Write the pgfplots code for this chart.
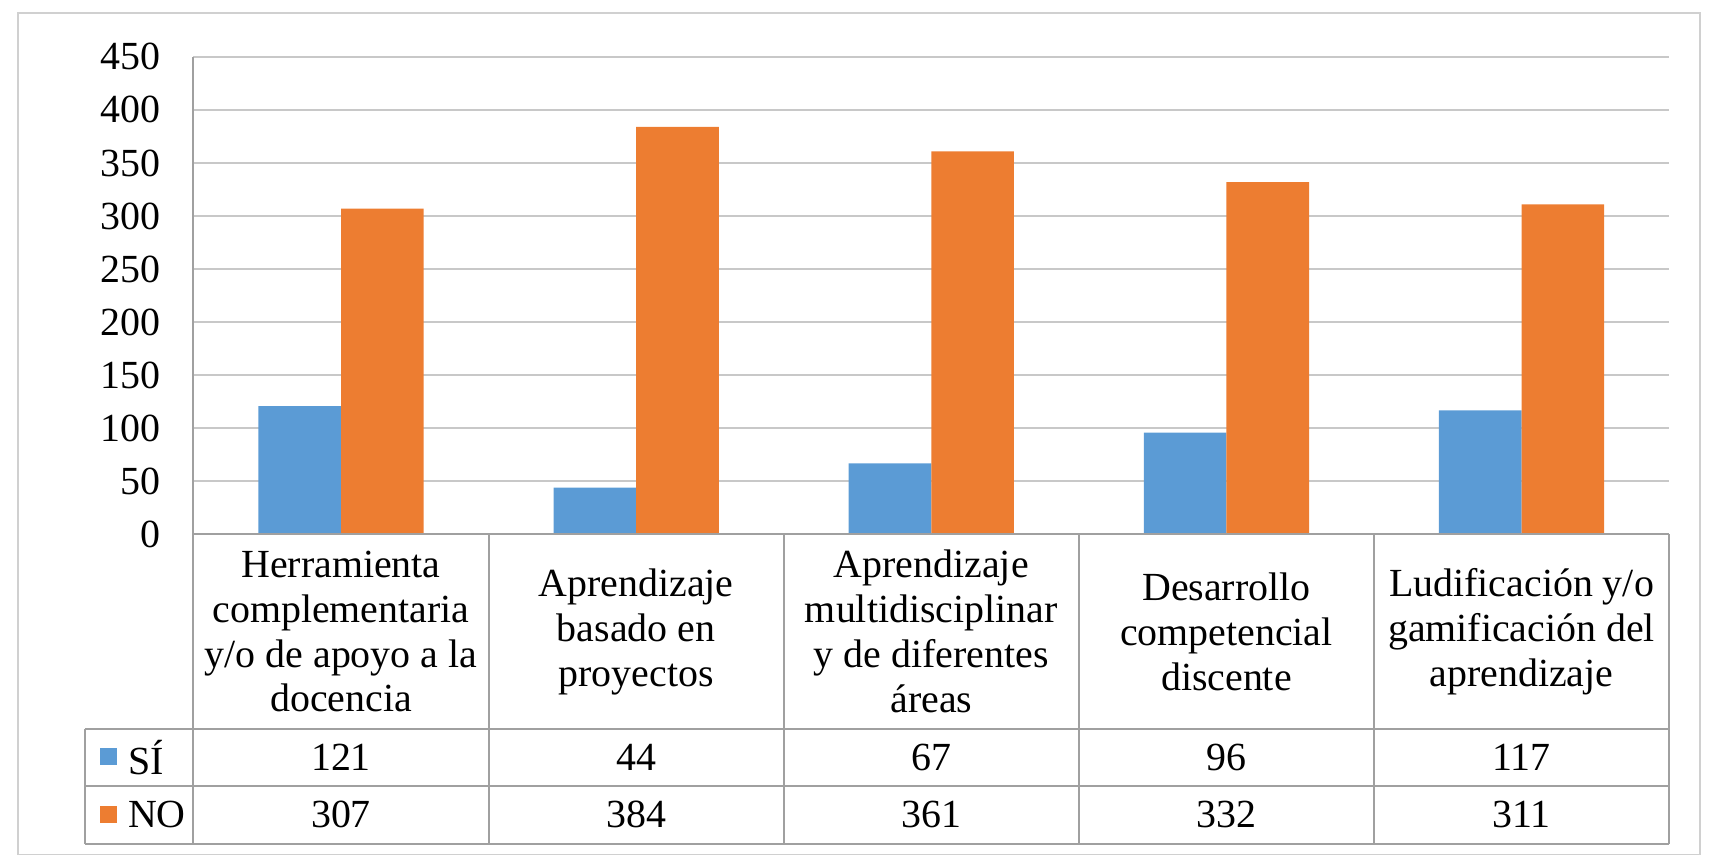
\documentclass[border=0pt]{standalone}
\usepackage{pgfplots}
\usepackage{pgfplotstable}
\pgfplotsset{compat=1.18}
\usepackage{fontspec}
\setmainfont{Liberation Serif}
\definecolor{siblue}{HTML}{5B9BD5}
\definecolor{noorange}{HTML}{ED7D31}
\definecolor{gridgray}{HTML}{C8C8C8}
\definecolor{tabgray}{HTML}{A0A0A0}
\definecolor{bordergray}{HTML}{D0D0D0}

\pgfplotstableread{
x si no
0 121 307
1 44 384
2 67 361
3 96 332
4 117 311
}\data

\begin{document}
\newcommand{\tf}{\fontsize{20}{22.5}\selectfont}
\begin{tikzpicture}
\useasboundingbox (-94.5pt,-163pt) rectangle (760.5pt,268pt);
\draw[bordergray, line width=1pt] (-88pt,-160.5pt) rectangle (755.5pt,261.5pt);
\begin{axis}[
  at={(0pt,0pt)}, anchor=south west,
  scale only axis, width=740pt, height=239.5pt,
  xmin=-0.5, xmax=4.5, ymin=0, ymax=450,
  ytick={0,50,...,450},
  xtick={0,1,2,3,4},
  xticklabels={
    {Herramienta\\complementaria\\y/o de apoyo a la\\docencia},
    {Aprendizaje\\basado en\\proyectos},
    {Aprendizaje\\multidisciplinar\\y de diferentes\\áreas},
    {Desarrollo\\competencial\\discente},
    {Ludificación y/o\\gamificación del\\aprendizaje}},
  xticklabel style={align=center, anchor=center, yshift=-48.75pt, font=\tf},
  yticklabel style={font=\tf, xshift=-13pt},
  /pgf/number format/assume math mode=true,
  tick style={draw=none},
  major tick length=0pt,
  ymajorgrids, grid style={gridgray, line width=1pt},
  axis x line*=bottom, axis y line*=left,
  axis line style={tabgray, line width=1pt, -},
  clip=false,
]
\addplot[ybar, bar width=0.28, bar shift=-0.14, fill=siblue, draw=none] table[x=x, y=si] {\data};
\addplot[ybar, bar width=0.28, bar shift=0.14, fill=noorange, draw=none] table[x=x, y=no] {\data};
\end{axis}
% data table grid
\draw[tabgray, line width=1pt] (0pt,0pt) -- (0pt,-155pt);
\foreach \xx in {148,296,444,592,740} {\draw[tabgray, line width=1pt] (\xx pt,0pt) -- (\xx pt,-155pt);}
\draw[tabgray, line width=1pt] (0pt,0pt) -- (740pt,0pt);
\draw[tabgray, line width=1pt] (-54.5pt,-97.5pt) -- (740pt,-97.5pt);
\draw[tabgray, line width=1pt] (-54.5pt,-126pt) -- (740pt,-126pt);
\draw[tabgray, line width=1pt] (-54.5pt,-155pt) -- (740pt,-155pt);
\draw[tabgray, line width=1pt] (-54.5pt,-97.5pt) -- (-54.5pt,-155pt);
% legend keys
\node[fill=siblue, minimum size=8.5pt, inner sep=0pt] at (-42.5pt,-111.25pt) {};
\node[anchor=west, inner sep=0pt, font=\tf] at (-33pt,-111.75pt) {SÍ};
\node[fill=noorange, minimum size=8.5pt, inner sep=0pt] at (-42.5pt,-140.5pt) {};
\node[anchor=west, inner sep=0pt, font=\tf] at (-33pt,-140.5pt) {NO};
% values
\foreach \i in {0,...,4} {
  \pgfplotstablegetelem{\i}{si}\of\data
  \node[font=\tf] at ({(74+148*\i)*1pt},-111.75pt) {\pgfplotsretval};
  \pgfplotstablegetelem{\i}{no}\of\data
  \node[font=\tf] at ({(74+148*\i)*1pt},-140.5pt) {\pgfplotsretval};
}
\end{tikzpicture}
\end{document}
